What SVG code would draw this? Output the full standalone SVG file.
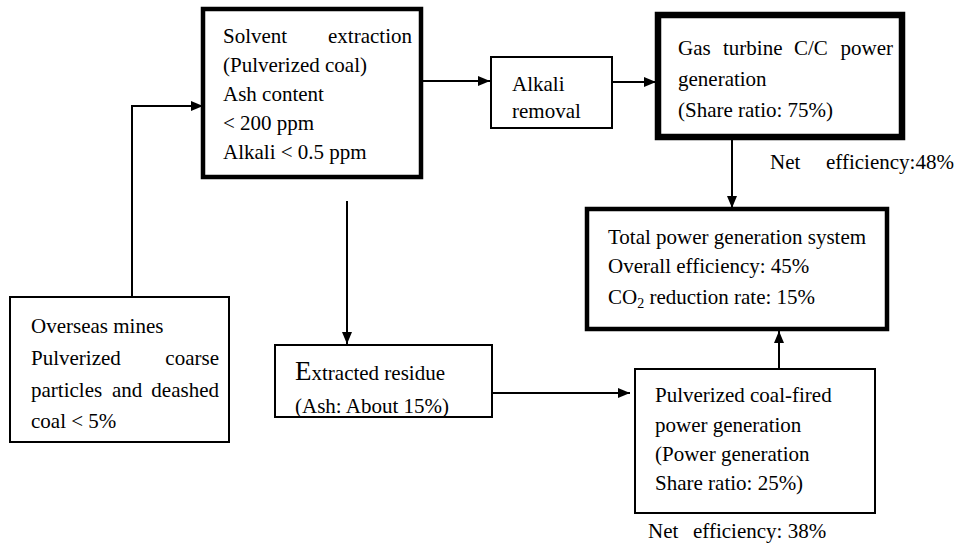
<svg xmlns="http://www.w3.org/2000/svg" width="970" height="547" viewBox="0 0 970 547">
<style>
  text { font-family: "Liberation Serif", "Times New Roman", serif; font-size: 21px; fill: #000; }
  .box { fill: #fff; stroke: #000; stroke-width: 2; }
  .thick { fill: #fff; stroke: #000; stroke-width: 4.5; }
  .vthick { fill: #fff; stroke: #000; stroke-width: 6.5; }
  .conn { fill: none; stroke: #000; stroke-width: 2; }
</style>
<defs>
  <marker id="arr" viewBox="0 0 12 10" refX="12" refY="5" markerWidth="12" markerHeight="10" markerUnits="userSpaceOnUse" orient="auto">
    <path d="M0,0 L12,5 L0,10 Z" fill="#000"/>
  </marker>
</defs>
<rect width="970" height="547" fill="#fff"/>

<g id="connectors">
  <path class="conn" d="M132,297 V106 H203" marker-end="url(#arr)"/>
  <path class="conn" d="M421,81 H490" marker-end="url(#arr)"/>
  <path class="conn" d="M612,82 H656" marker-end="url(#arr)"/>
  <path class="conn" d="M732,137 V208" marker-end="url(#arr)"/>
  <path class="conn" d="M347,201 V344" marker-end="url(#arr)"/>
  <path class="conn" d="M492,393 H630" marker-end="url(#arr)"/>
  <path class="conn" d="M779,369 V331" marker-end="url(#arr)"/>
</g>

<g id="solvent">
  <rect class="thick" x="203" y="9" width="218" height="168"/>
  <text x="223" y="43">Solvent</text>
  <text x="412" y="43" text-anchor="end">extraction</text>
  <text x="223" y="72">(Pulverized coal)</text>
  <text x="223" y="101">Ash content</text>
  <text x="223" y="130">&lt; 200 ppm</text>
  <text x="223" y="159">Alkali &lt; 0.5 ppm</text>
</g>

<g id="alkali">
  <rect class="box" x="491" y="57" width="121" height="71"/>
  <text x="512" y="91">Alkali</text>
  <text x="512" y="118">removal</text>
</g>

<g id="gasturbine">
  <rect class="vthick" x="658" y="15" width="244" height="122"/>
  <text x="678" y="55">Gas</text>
  <text x="723" y="55">turbine</text>
  <text x="794" y="55">C/C</text>
  <text x="893" y="55" text-anchor="end">power</text>
  <text x="678" y="86">generation</text>
  <text x="678" y="117">(Share ratio: 75%)</text>
</g>

<g id="neteff48">
  <text x="770" y="169" font-size="22">Net</text>
  <text x="826" y="169" font-size="22">efficiency:48%</text>
</g>

<g id="total">
  <rect class="thick" x="587" y="209" width="300" height="120"/>
  <text x="608" y="244">Total power generation system</text>
  <text x="608" y="273">Overall efficiency: 45%</text>
  <text x="608" y="304">CO<tspan font-size="14" dy="4">2</tspan><tspan dy="-4"> reduction rate: 15%</tspan></text>
</g>

<g id="overseas">
  <rect class="box" x="10" y="297" width="219" height="145"/>
  <text x="31" y="333">Overseas mines</text>
  <text x="31" y="365">Pulverized</text>
  <text x="219" y="365" text-anchor="end">coarse</text>
  <text x="31" y="397">particles</text>
  <text x="112" y="397">and</text>
  <text x="219" y="397" text-anchor="end">deashed</text>
  <text x="31" y="428">coal &lt; 5%</text>
</g>

<g id="residue">
  <rect class="box" x="275" y="345" width="217" height="72"/>
  <text x="295" y="380"><tspan font-size="27">E</tspan>xtracted residue</text>
  <text x="295" y="413">(Ash: About 15%)</text>
</g>

<g id="pulverized">
  <rect class="box" x="635" y="369" width="240" height="144"/>
  <text x="655" y="402">Pulverized coal-fired</text>
  <text x="655" y="432">power generation</text>
  <text x="655" y="461">(Power generation</text>
  <text x="655" y="490">Share ratio: 25%)</text>
</g>

<g id="neteff38">
  <text x="648" y="538">Net</text>
  <text x="693" y="538">efficiency: 38%</text>
</g>
</svg>
